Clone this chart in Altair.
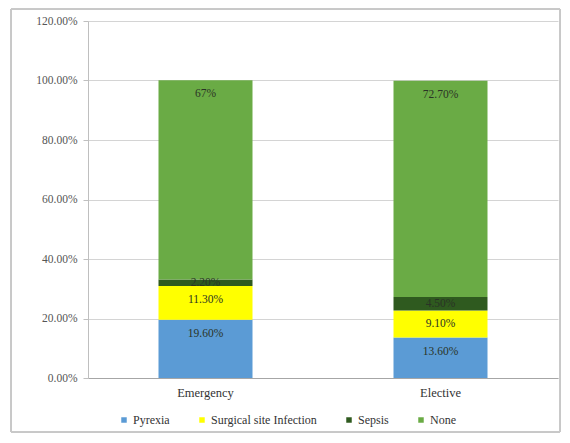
import altair as alt
import pandas as pd

categories = ["Emergency", "Elective"]
series = ["Pyrexia", "Surgical site Infection", "Sepsis", "None"]
emergency_vals = [19.6, 11.3, 2.2, 67.0]
elective_vals = [13.6, 9.1, 4.5, 72.7]
emergency_labels = ["19.60%", "11.30%", "2.20%", "67%"]
elective_labels = ["13.60%", "9.10%", "4.50%", "72.70%"]
colors = ["#5B9BD5", "#FFFF00", "#2F5A1F", "#6AAB45"]

rows = []
for cat, vals, labs in [("Emergency", emergency_vals, emergency_labels),
                        ("Elective", elective_vals, elective_labels)]:
    cum = 0.0
    for i, (s, v, l) in enumerate(zip(series, vals, labs)):
        top = cum + v
        lab_y = top - min(4.7, v / 2)
        rows.append({"cat": cat, "series": s, "order": i, "start": cum / 100,
                     "end": top / 100, "label": l, "laby": lab_y / 100})
        cum = top
df = pd.DataFrame(rows)

FONT = "Liberation Serif"

x = alt.X("cat:N", sort=categories, title=None,
          scale=alt.Scale(paddingInner=0.6, paddingOuter=0.3),
          axis=alt.Axis(labelAngle=0, labelFont=FONT, labelFontSize=12.5,
                        labelColor="#333333", ticks=False, domainColor="#a6a6a6",
                        labelPadding=8))
yscale = alt.Scale(domain=[0, 1.2], nice=False)

bars = alt.Chart(df).mark_bar().encode(
    x=x,
    y=alt.Y("start:Q", scale=yscale, title=None,
            axis=alt.Axis(format=".2%", values=[0, 0.2, 0.4, 0.6, 0.8, 1.0, 1.2],
                          labelFont=FONT, labelFontSize=11.5, labelColor="#555555",
                          gridColor="#d4d4d4", domainColor="#bfbfbf",
                          tickColor="#bfbfbf", tickSize=5, labelPadding=6)),
    y2="end:Q",
    color=alt.Color("series:N", sort=series,
                    scale=alt.Scale(domain=series, range=colors),
                    legend=alt.Legend(title=None, orient="none", direction="horizontal",
                                      legendX=30, legendY=393, symbolType="square",
                                      symbolSize=30, labelFont=FONT, labelFontSize=12,
                                      labelColor="#333333", columnPadding=26,
                                      labelOffset=3, symbolStrokeWidth=0)),
    order=alt.Order("order:Q"),
)

text = alt.Chart(df).mark_text(font=FONT, fontSize=11.5, color="#2a3326",
                               baseline="middle").encode(
    x=alt.X("cat:N", sort=categories),
    y=alt.Y("laby:Q", scale=yscale),
    text="label:N",
)

border = alt.Chart(df).mark_rect(fill=None, stroke="#c8c8c8", strokeWidth=1).encode(
    x=alt.value(-77), x2=alt.value(472), y=alt.value(-12), y2=alt.value(411)
)

chart = alt.layer(bars, text, border).properties(
    width=470, height=357,
    padding={"left": 80, "top": 13, "right": 4, "bottom": 64},
    autosize=alt.AutoSizeParams(type="none"),
    background="white",
).configure_view(stroke=None)

chart.save("out.html", embed_options={"renderer": "svg", "actions": False})
